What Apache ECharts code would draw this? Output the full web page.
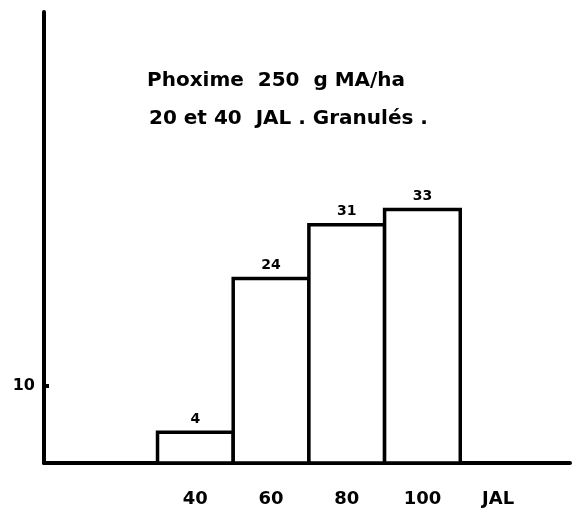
<!DOCTYPE html>
<html>
<head>
<meta charset="utf-8">
<script src="https://cdn.jsdelivr.net/npm/echarts@6/dist/echarts.min.js"></script>
<style>
  html, body { margin: 0; padding: 0; background: #fff; }
  #chart { width: 574px; height: 508px; }
</style>
</head>
<body>
<div id="chart"></div>
<script>
// Sampling dates (JAL = jours après levée) and counts per interval
const days = [40, 60, 80, 100];
const counts = [4, 24, 31, 33];
const xTickValues = [40, 60, 80, 100, 120];
const xTickText = ['40', '60', '80', '100', 'JAL'];
const yTickValues = [10];
const titleLines = ['Phoxime  250  g MA/ha', '20 et 40  JAL . Granulés .'];

const FONT = 'DejaVu Sans';
const BIN = 20; // width of each sampling interval, in days

const chart = echarts.init(document.getElementById('chart'), null, { renderer: 'canvas' });

chart.setOption({
  backgroundColor: '#fff',
  animation: false,
  title: [
    { text: titleLines[0], left: 142, top: 66,
      textStyle: { fontFamily: FONT, fontWeight: 'bold', fontSize: 20, color: '#000' } },
    { text: titleLines[1], left: 144, top: 104,
      textStyle: { fontFamily: FONT, fontWeight: 'bold', fontSize: 20, color: '#000' } }
  ],
  grid: { left: 44, right: 4, top: 12, bottom: 44 },
  xAxis: {
    type: 'value',
    min: 0,
    max: 139,
    splitLine: { show: false },
    axisLine: { lineStyle: { color: '#000', width: 4 } },
    axisTick: { show: false },
    axisLabel: {
      customValues: xTickValues,
      margin: 27,
      fontFamily: FONT, fontWeight: 'bold', fontSize: 18, color: '#000',
      formatter: v => xTickText[xTickValues.indexOf(v)]
    }
  },
  yAxis: {
    type: 'value',
    min: 0,
    max: 58.7,
    splitLine: { show: false },
    axisLine: { show: true, lineStyle: { color: '#000', width: 4 } },
    axisTick: { show: true, customValues: yTickValues, inside: true, length: 5,
      lineStyle: { color: '#000', width: 4 } },
    axisLabel: {
      customValues: yTickValues,
      margin: 9,
      fontFamily: FONT, fontWeight: 'bold', fontSize: 16, color: '#000'
    }
  },
  series: [{
    type: 'custom',
    data: days.map((d, i) => [d, counts[i]]),
    renderItem: (params, api) => {
      const x = api.value(0);
      const v = api.value(1);
      const tl = api.coord([x - BIN / 2, v]);
      const br = api.coord([x + BIN / 2, 0]);
      return {
        type: 'group',
        children: [
          { type: 'rect',
            shape: { x: tl[0], y: tl[1], width: br[0] - tl[0], height: br[1] - tl[1] },
            style: { fill: '#fff', stroke: '#000', lineWidth: 3.5 } },
          { type: 'text',
            style: { text: String(v), x: (tl[0] + br[0]) / 2, y: tl[1] - 6,
              align: 'center', verticalAlign: 'bottom',
              font: 'bold 14px "' + FONT + '"', fill: '#000' } }
        ]
      };
    }
  }]
});
</script>
</body>
</html>
